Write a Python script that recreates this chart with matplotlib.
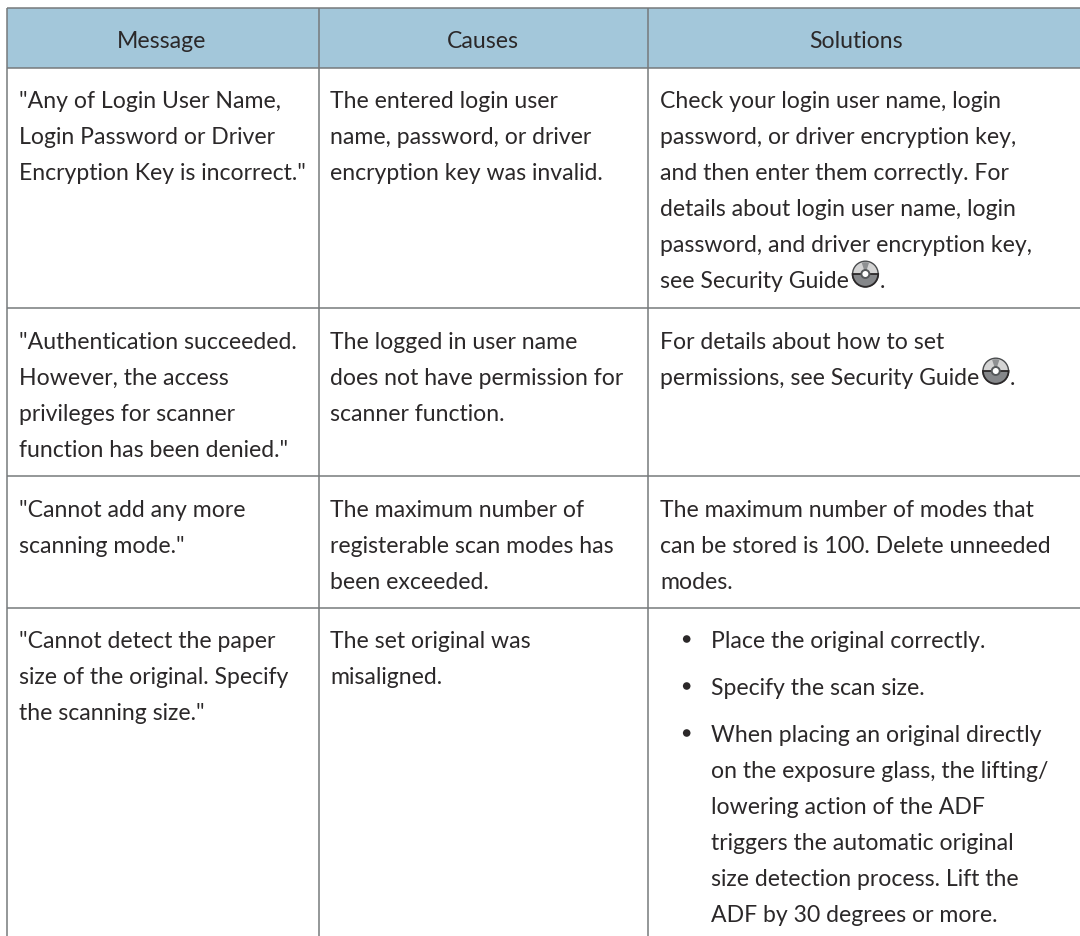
"""Scanner error message table, drawn in pixel coordinates."""

import matplotlib

matplotlib.use("Agg")
import matplotlib.pyplot as plt
from matplotlib.patches import Circle, Wedge, Rectangle

WIDTH, HEIGHT = 1080, 937
FONT = "Lato"
TEXT_COLOR = "#2b2829"
LINE_COLOR = "#767a7c"
HEADER_COLOR = "#a3c7da"

HEADERS = ["Message", "Causes", "Solutions"]

MESSAGES = [
    ['"Any of Login User Name,', "Login Password or Driver", 'Encryption Key is incorrect."'],
    ['"Authentication succeeded.', "However, the access", "privileges for scanner", 'function has been denied."'],
    ['"Cannot add any more', 'scanning mode."'],
    ['"Cannot detect the paper', "size of the original. Specify", 'the scanning size."'],
]
CAUSES = [
    ["The entered login user", "name, password, or driver", "encryption key was invalid."],
    ["The logged in user name", "does not have permission for", "scanner function."],
    ["The maximum number of", "registerable scan modes has", "been exceeded."],
    ["The set original was", "misaligned."],
]
SOLUTIONS = [
    [
        "Check your login user name, login",
        "password, or driver encryption key,",
        "and then enter them correctly. For",
        "details about login user name, login",
        "password, and driver encryption key,",
        "see Security Guide@.",
    ],
    ["For details about how to set", "permissions, see Security Guide@."],
    ["The maximum number of modes that", "can be stored is 100. Delete unneeded", "modes."],
]
BULLETS = [
    ["Place the original correctly."],
    ["Specify the scan size."],
    [
        "When placing an original directly",
        "on the exposure glass, the lifting/",
        "lowering action of the ADF",
        "triggers the automatic original",
        "size detection process. Lift the",
        "ADF by 30 degrees or more.",
    ],
]

# layout, in pixels of the 1080x937 image
COL_LINES = [6.5, 318.5, 647.5]
COL_TEXT = [19, 330.5, 660]
HEADER_CENTERS = [162, 483, 856]
ROW_LINES = [9, 69, 309, 477, 609]
ROW_BASELINES = [108, 349, 517, 648]
BULLET_BASELINES = [648, 695, 742]
LINE_STEP = 36
FONT_PX = 23


def draw_disc(ax, cx, cy, r=12.8):
    """Small CD icon that follows 'Security Guide'."""
    ax.add_patch(Circle((cx, cy), r, fc="#d4d4d4", ec="#4a4c4e", lw=1.0, zorder=3))
    ax.add_patch(Wedge((cx, cy), r, 0, 180, fc="#85878a", ec="#2b2829", lw=1.3, zorder=3))
    ax.add_patch(Wedge((cx, cy), r - 1, 252, 288, fc="#8e9092", lw=0, zorder=4))
    ax.add_patch(Circle((cx, cy), 4.0, fc="white", ec="#55585a", lw=1.4, zorder=5))


def put_text(ax, x, y, line, **kwargs):
    return ax.text(x, y, line, family=FONT, fontsize=FONT_PX * 0.72, color=TEXT_COLOR,
                   va="baseline", **kwargs)


def put_line(ax, fig, x, y, line):
    """Draw one line of text; '@' stands for the disc icon."""
    if "@" not in line:
        put_text(ax, x, y, line)
        return
    before, after = line.split("@")
    txt = put_text(ax, x, y, before)
    right = txt.get_window_extent(fig.canvas.get_renderer()).x1
    draw_disc(ax, right + 16.5, y - 13)
    put_text(ax, right + 30.5, y, after)


def main():
    fig = plt.figure(figsize=(WIDTH / 100, HEIGHT / 100), dpi=100)
    ax = fig.add_axes([0, 0, 1, 1])
    ax.set_xlim(0, WIDTH)
    ax.set_ylim(HEIGHT, 0)
    ax.axis("off")

    ax.add_patch(Rectangle((COL_LINES[0], ROW_LINES[0]), WIDTH - COL_LINES[0],
                           ROW_LINES[1] - ROW_LINES[0], fc=HEADER_COLOR, lw=0))
    for y in ROW_LINES:
        ax.plot([COL_LINES[0], WIDTH], [y, y], color=LINE_COLOR, lw=1.1, solid_capstyle="butt")
    for x in COL_LINES:
        ax.plot([x, x], [ROW_LINES[0], HEIGHT], color=LINE_COLOR, lw=1.1, solid_capstyle="butt")

    for name, x in zip(HEADERS, HEADER_CENTERS):
        put_text(ax, x, 47.5, name, ha="center")

    for col, rows in enumerate([MESSAGES, CAUSES, SOLUTIONS]):
        for baseline, lines in zip(ROW_BASELINES, rows):
            for i, line in enumerate(lines):
                put_line(ax, fig, COL_TEXT[col], baseline + i * LINE_STEP, line)

    for baseline, lines in zip(BULLET_BASELINES, BULLETS):
        ax.add_patch(Circle((686.7, baseline - 8), 3.8, fc=TEXT_COLOR, lw=0))
        for i, line in enumerate(lines):
            put_line(ax, fig, 711, baseline + i * LINE_STEP, line)

    fig.savefig("out.png", dpi=100)


main()
